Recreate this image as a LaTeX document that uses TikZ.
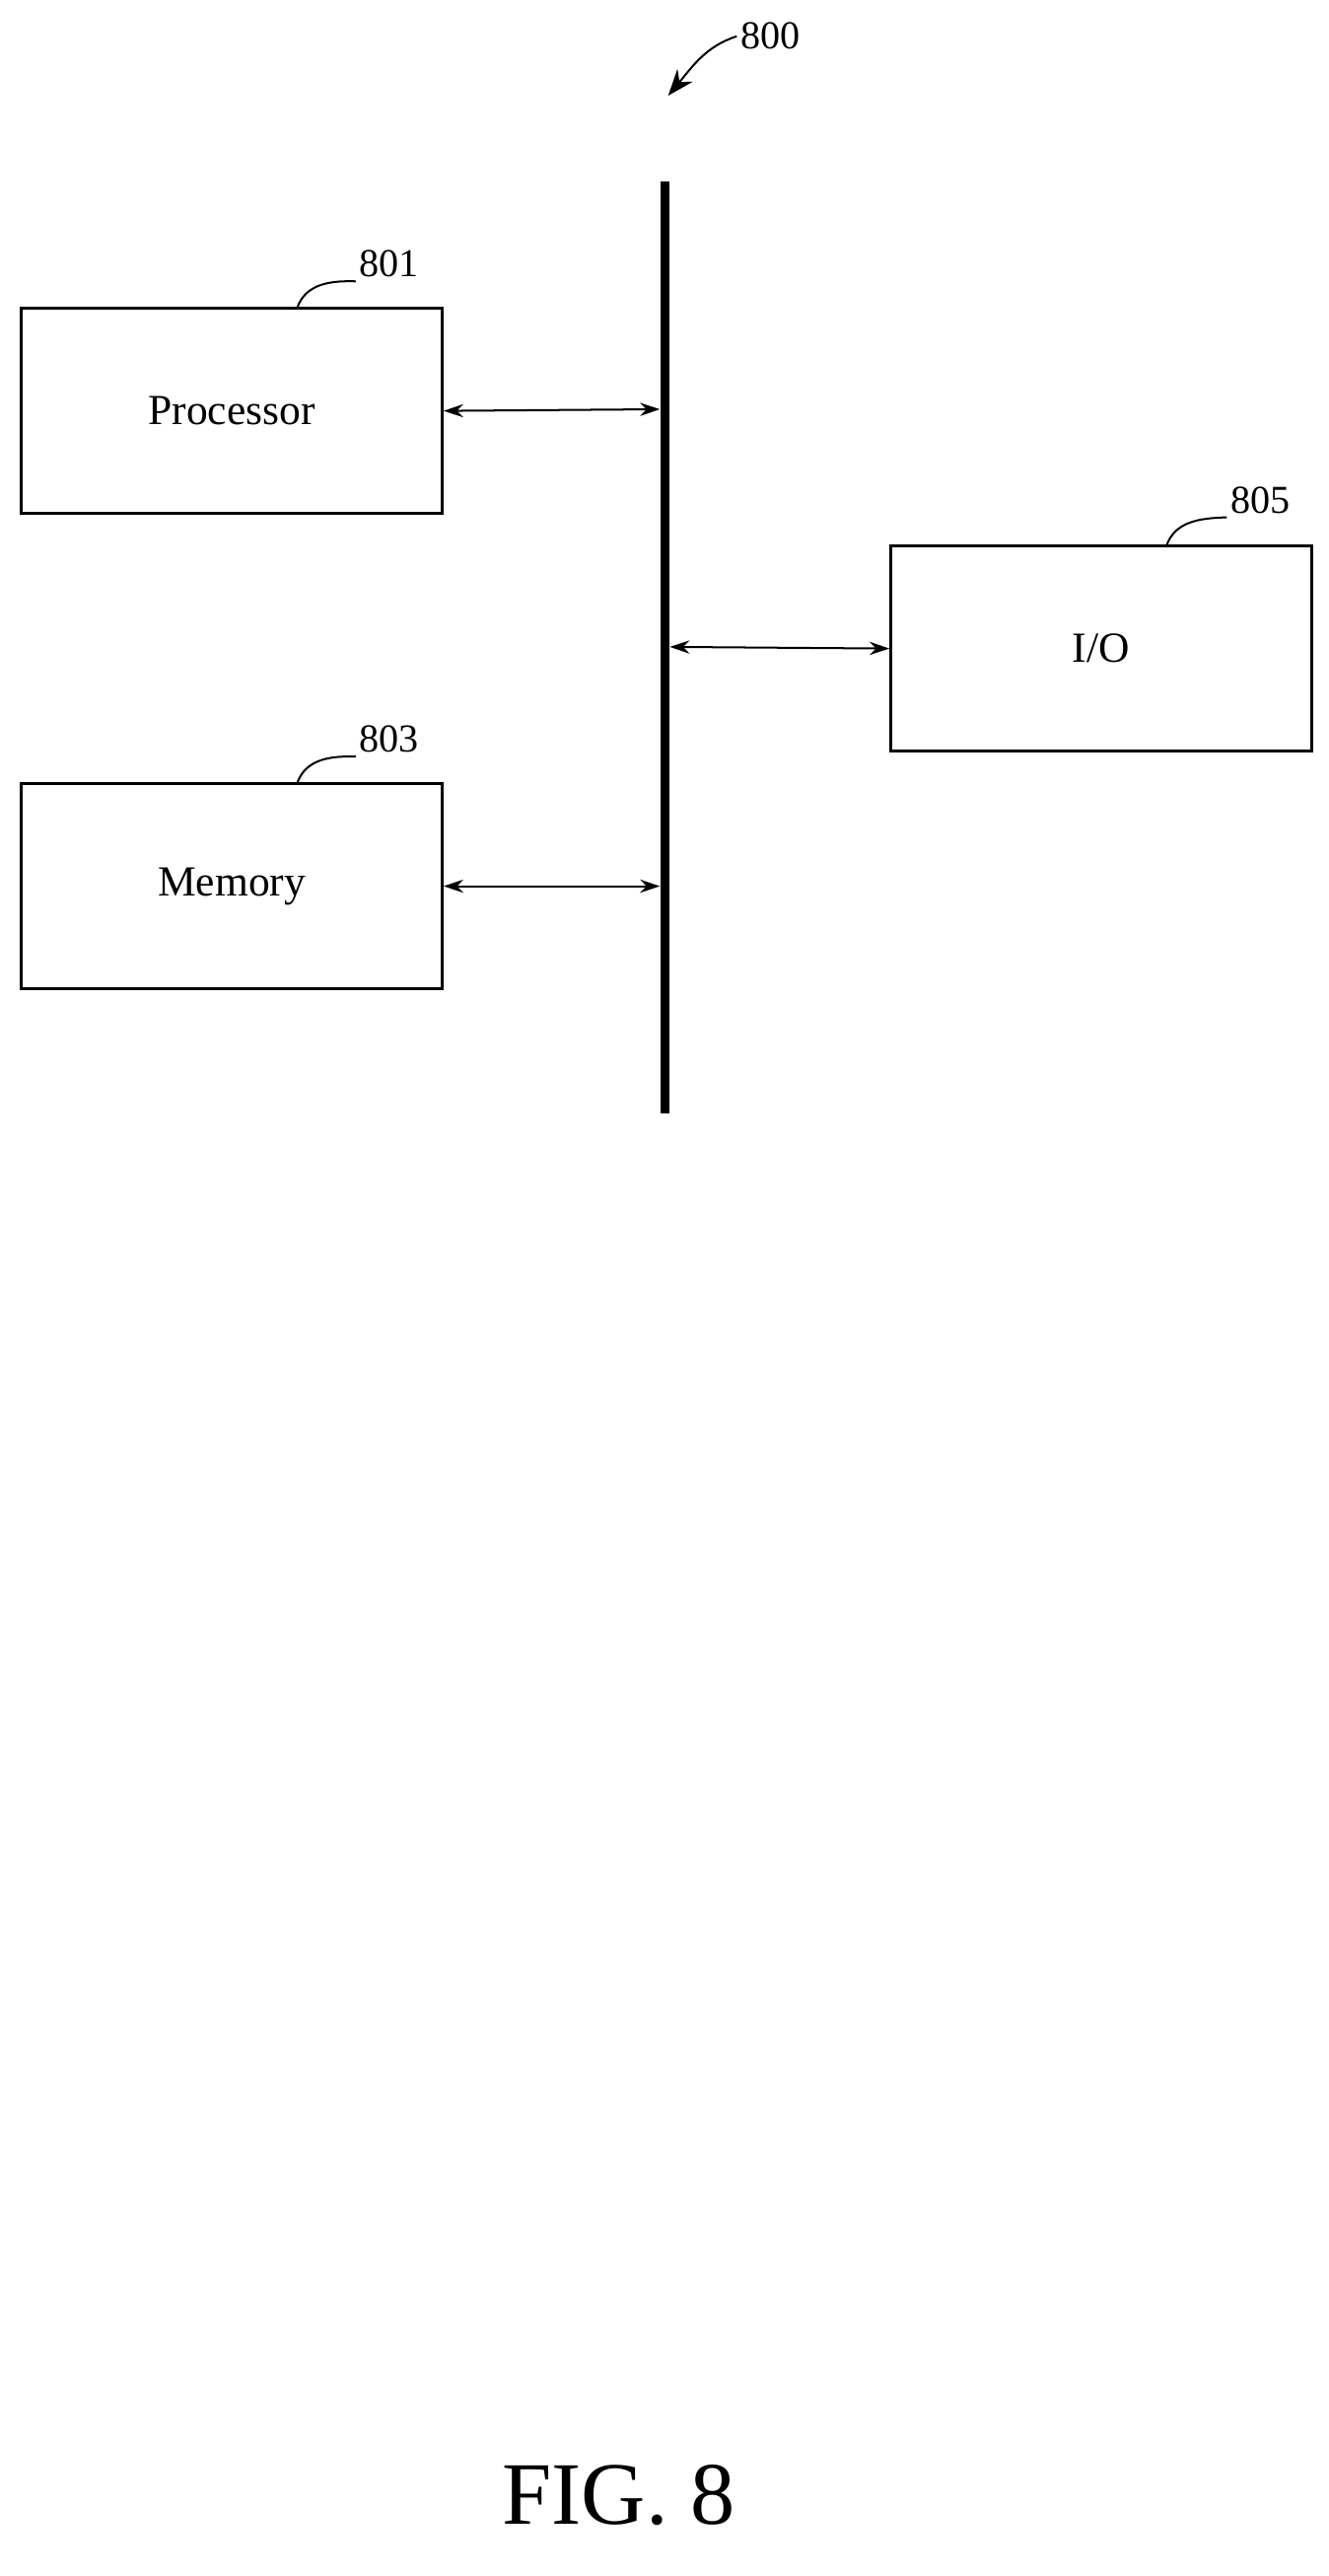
\documentclass[tikz,border=0pt]{standalone}
\usepackage{fontspec}
\setmainfont{Liberation Serif}
\usetikzlibrary{arrows.meta}
\begin{document}
\begin{tikzpicture}[x=0.5pt,y=-0.5pt,
  box/.style={draw,line width=0.9pt,minimum width=127.5pt,minimum height=62pt,inner sep=0pt,font=\fontsize{13}{15}\selectfont},
  lab/.style={font=\fontsize{12}{14}\selectfont,inner sep=1pt},
  conn/.style={line width=0.6pt,{Stealth[length=6pt,width=4pt]}-{Stealth[length=6pt,width=4pt]}},
  lead/.style={line width=0.6pt}]
\useasboundingbox (0,0) rectangle (805,1561);
\node[box] (proc) at (140.5,249) {Processor};
\node[box] (mem) at (140.5,537) {Memory};
\node[box] (io) at (667.5,393) {I/O};
\coordinate (bt) at (403,110);
\coordinate (bb) at (403,675);
\draw[line width=2.6pt] (bt) -- (bb);
\coordinate (pb) at (400,248);
\coordinate (mb) at (400,537);
\coordinate (ib) at (406,392);
\draw[conn] (proc.east) -- (pb);
\draw[conn] (mem.east) -- (mb);
\draw[conn] (ib) -- (io.west);
\node[lab] (l801) at (236,160) {801};
\node[lab] (l803) at (236,448) {803};
\node[lab] (l805) at (764,303) {805};
\node[lab] (l800) at (467,22) {800};
\draw[lead] (180,187) .. controls (185,172) and (200,170) .. (l801.south west);
\draw[lead] (180,475) .. controls (185,460) and (200,458) .. (l803.south west);
\draw[lead] (707,331) .. controls (712,316) and (727,314) .. (l805.south west);
\draw[lead,-{Stealth[length=8pt,width=6pt]}] (l800.west) .. controls (428,28) and (420,40) .. (405,58);
\node[font=\fontsize{27}{30}\selectfont] (fig) at (375,1512) {FIG. 8};
\end{tikzpicture}
\end{document}
